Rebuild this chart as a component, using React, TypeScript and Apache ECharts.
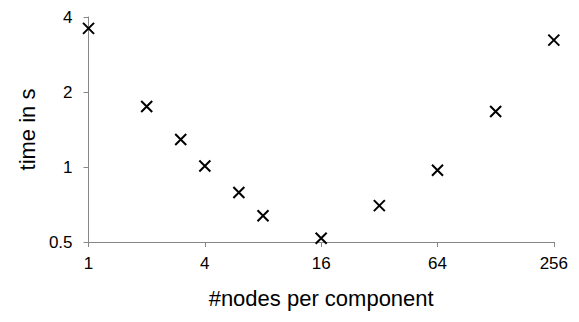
import React, { useEffect, useRef } from "react";
import * as echarts from "echarts";

const nodesPerComponent = [1, 2, 3, 4, 6, 8, 16, 32, 64, 128, 256];
const timeInSeconds = [3.6, 1.75, 1.29, 1.01, 0.79, 0.637, 0.518, 0.7, 0.97, 1.67, 3.23];
const xAxisName = "#nodes per component";
const yAxisName = "time in s";

export default function App() {
  const ref = useRef<HTMLDivElement>(null);
  useEffect(() => {
    if (!ref.current) return;
    const chart = echarts.init(ref.current, null, { renderer: "svg" });
    const font = "'Liberation Sans', Arial, sans-serif";
    const axisColor = "#868686";
    chart.setOption({
      animation: false,
      grid: { left: 72, right: 7, top: 9, bottom: 59, containLabel: false },
      xAxis: {
        type: "log",
        logBase: 4,
        min: 1,
        max: 256,
        name: xAxisName,
        nameLocation: "middle",
        nameGap: 45,
        nameTextStyle: { fontFamily: font, fontSize: 22, color: "#000" },
        axisLine: { show: true, lineStyle: { color: axisColor, width: 1 } },
        axisTick: { show: true, length: 5, lineStyle: { color: axisColor } },
        minorTick: { show: false },
        splitLine: { show: false },
        axisLabel: { fontFamily: font, fontSize: 17, color: "#000", margin: 13 },
      },
      yAxis: {
        type: "log",
        logBase: 2,
        min: 0.5,
        max: 4,
        name: yAxisName,
        nameLocation: "middle",
        nameRotate: 90,
        nameGap: 44,
        nameTextStyle: { fontFamily: font, fontSize: 22, color: "#000" },
        axisLine: { show: true, lineStyle: { color: axisColor, width: 1 } },
        axisTick: { show: true, length: 5, lineStyle: { color: axisColor } },
        splitLine: { show: false },
        axisLabel: { fontFamily: font, fontSize: 17, color: "#000", margin: 16 },
      },
      series: [
        {
          type: "scatter",
          data: nodesPerComponent.map((x, i) => [x, timeInSeconds[i]]),
          symbol: "path://M0,0L10,10M10,0L0,10",
          symbolSize: 11,
          itemStyle: { color: "rgba(0,0,0,0)", borderColor: "#000", borderWidth: 2, opacity: 1 },
        },
      ],
    });
    return () => chart.dispose();
  }, []);
  return <div ref={ref} style={{ width: 563, height: 306 }} />;
}
